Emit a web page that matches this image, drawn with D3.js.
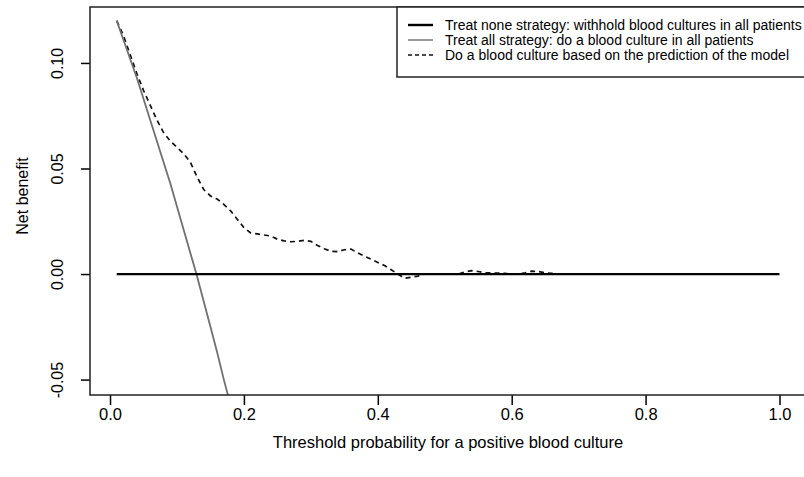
<!DOCTYPE html>
<html>
<head>
<meta charset="utf-8">
<script src="https://cdn.jsdelivr.net/npm/d3@7"></script>
<style>
  body { margin: 0; background: #fff; }
  svg text { font-family: "Liberation Sans", Arial, sans-serif; fill: #000; }
</style>
</head>
<body>
<div id="chart"></div>
<script>
// threshold probabilities and net benefit
const thresholds = [0.01, 1.0];
const treatNone = [0, 0];

const treatAllPt = [0.01, 0.02, 0.03, 0.04, 0.05, 0.06, 0.07, 0.08, 0.09, 0.10,
    0.11, 0.12, 0.13, 0.14, 0.15, 0.16, 0.17, 0.18];
const treatAll = [0.120, 0.111, 0.102, 0.093, 0.083, 0.073, 0.063, 0.053, 0.043, 0.032,
    0.021, 0.010, -0.001, -0.013, -0.025, -0.037, -0.050, -0.062];

const modelPt = [0.01, 0.02, 0.03, 0.04, 0.05, 0.06, 0.07, 0.08, 0.09, 0.10,
    0.11, 0.12, 0.13, 0.14, 0.15, 0.16, 0.17, 0.18, 0.19, 0.20,
    0.21, 0.22, 0.23, 0.24, 0.25, 0.26, 0.27, 0.28, 0.29, 0.30,
    0.31, 0.32, 0.33, 0.34, 0.35, 0.36, 0.37, 0.38, 0.39, 0.40,
    0.41, 0.42, 0.43, 0.44, 0.45, 0.46, 0.47, 0.50, 0.52, 0.53,
    0.54, 0.55, 0.56, 0.57, 0.58, 0.59, 0.60, 0.61, 0.62, 0.63,
    0.64, 0.65, 0.66, 0.67];
const model = [0.120, 0.113, 0.104, 0.095, 0.087, 0.080, 0.073, 0.067, 0.063, 0.060,
    0.057, 0.053, 0.046, 0.040, 0.037, 0.0355, 0.033, 0.030, 0.026, 0.022,
    0.0195, 0.019, 0.0185, 0.018, 0.0165, 0.0157, 0.0153, 0.0155, 0.016, 0.0155,
    0.0135, 0.012, 0.0108, 0.0106, 0.0115, 0.0118, 0.010, 0.0085, 0.007, 0.0055,
    0.004, 0.002, 0.000, -0.002, -0.0015, -0.001, 0.000, 0.000, 0.000, 0.001,
    0.0016, 0.0012, 0.0006, 0.0005, 0.0005, 0.0003, 0.000, 0.000, 0.0006, 0.0014,
    0.0012, 0.0006, 0.0003, 0.000];

const xTicks = [0, 0.2, 0.4, 0.6, 0.8, 1.0];
const xTickLabels = ["0.0", "0.2", "0.4", "0.6", "0.8", "1.0"];
const yTicks = [-0.05, 0, 0.05, 0.10];
const yTickLabels = ["-0.05", "0.00", "0.05", "0.10"];

const legendLabels = [
    "Treat none strategy: withhold blood cultures in all patients",
    "Treat all strategy: do a blood culture in all patients",
    "Do a blood culture based on the prediction of the model"
];

const width = 804, height = 477;
const margin = {top: 7, right: -2, bottom: 82, left: 90};
const innerW = width - margin.left - margin.right;
const innerH = height - margin.top - margin.bottom;

const svg = d3.select("#chart").append("svg")
    .attr("width", width)
    .attr("height", height);

const g = svg.append("g")
    .attr("transform", `translate(${margin.left},${margin.top})`);

const x = d3.scaleLinear().domain([-0.0299, 1.0396]).range([0, innerW]);
const y = d3.scaleLinear().domain([-0.0573, 0.1265]).range([innerH, 0]);

g.append("clipPath").attr("id", "clip")
    .append("rect").attr("width", innerW).attr("height", innerH);

// axes
const xAxis = g.append("g")
    .attr("transform", `translate(0,${innerH})`)
    .call(d3.axisBottom(x).tickValues(xTicks).tickSize(10).tickPadding(3)
        .tickFormat((d, i) => xTickLabels[i]));
xAxis.select(".domain").remove();
xAxis.selectAll("line").attr("stroke", "#000").attr("stroke-width", 1.5);
xAxis.selectAll("text").attr("font-size", 16.5).attr("fill", "#000");

const yAxis = g.append("g")
    .call(d3.axisLeft(y).tickValues(yTicks).tickSize(9)
        .tickFormat((d, i) => yTickLabels[i]));
yAxis.select(".domain").remove();
yAxis.selectAll("line").attr("stroke", "#000").attr("stroke-width", 1.5);
yAxis.selectAll("text")
    .attr("font-size", 16)
    .attr("fill", "#000")
    .attr("x", null).attr("dy", null)
    .attr("text-anchor", "middle")
    .attr("transform", "translate(-27,0) rotate(-90)");

g.append("text")
    .attr("x", innerW / 2)
    .attr("y", innerH + 53)
    .attr("text-anchor", "middle")
    .attr("font-size", 16.5)
    .text("Threshold probability for a positive blood culture");

g.append("text")
    .attr("transform", `translate(${28 - margin.left},${196 - margin.top}) rotate(-90)`)
    .attr("text-anchor", "middle")
    .attr("font-size", 16)
    .text("Net benefit");

// lines
const plot = g.append("g").attr("clip-path", "url(#clip)");

const line = d3.line()
    .x(d => x(d[0]))
    .y(d => y(d[1]));

plot.append("path")
    .datum(modelPt.map((p, i) => [p, model[i]]))
    .attr("fill", "none")
    .attr("stroke", "#111")
    .attr("stroke-width", 1.7)
    .attr("stroke-dasharray", "5,4")
    .attr("d", line);

plot.append("path")
    .datum(treatAllPt.map((p, i) => [p, treatAll[i]]))
    .attr("fill", "none")
    .attr("stroke", "#707070")
    .attr("stroke-width", 1.8)
    .attr("d", line);

plot.append("path")
    .datum(thresholds.map((p, i) => [p, treatNone[i]]))
    .attr("fill", "none")
    .attr("stroke", "#000")
    .attr("stroke-width", 2.2)
    .attr("d", line);

// box
g.append("rect")
    .attr("width", innerW).attr("height", innerH)
    .attr("fill", "none").attr("stroke", "#222").attr("stroke-width", 1.5);

// legend
const legend = g.append("g").attr("transform", `translate(${397 - margin.left},0)`);
legend.append("rect")
    .attr("width", innerW - (397 - margin.left)).attr("height", 70)
    .attr("fill", "#fff").attr("stroke", "#222").attr("stroke-width", 1.5);

const legendStyles = [
    {stroke: "#000", width: 2.4, dash: null},
    {stroke: "#6e6e6e", width: 1.4, dash: null},
    {stroke: "#111", width: 1.6, dash: "4,3"}
];

legendLabels.forEach((label, i) => {
    const row = legend.append("g").attr("transform", `translate(0,${18 + i * 15})`);
    row.append("line")
        .attr("x1", 11).attr("x2", 36)
        .attr("stroke", legendStyles[i].stroke)
        .attr("stroke-width", legendStyles[i].width)
        .attr("stroke-dasharray", legendStyles[i].dash);
    row.append("text")
        .attr("x", 48)
        .attr("dy", "0.35em")
        .attr("font-size", 14)
        .text(label);
});
</script>
</body>
</html>
